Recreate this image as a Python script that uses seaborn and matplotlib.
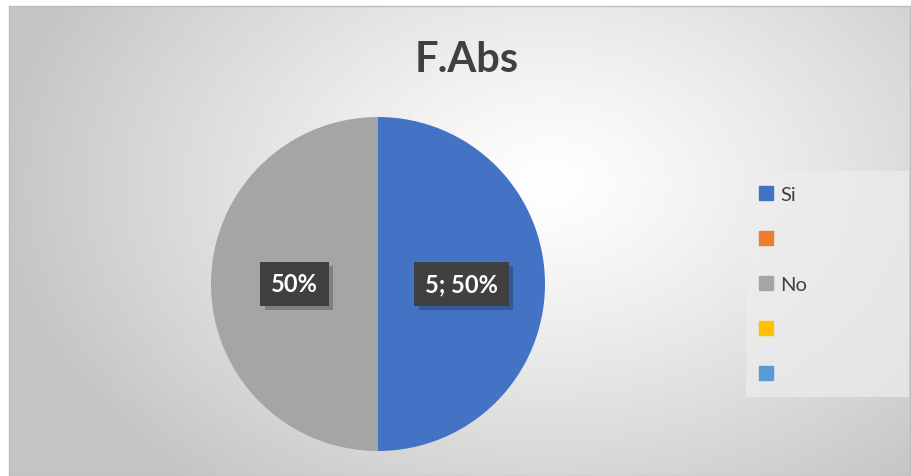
import numpy as np
import matplotlib
matplotlib.use("Agg")
import matplotlib.pyplot as plt
import matplotlib.patheffects as pe
import seaborn as sns
from matplotlib.patches import Rectangle
from matplotlib.lines import Line2D

sns.set_style("white")
plt.rcParams['font.family'] = ['Lato', 'DejaVu Sans']

title = "F.Abs"
categories = ["Si", "", "No", "", ""]
values = [5, 0, 5, 0, 0]
colors = ["#4472C4", "#ED7D31", "#A5A5A5", "#FFC000", "#5B9BD5"]
label_texts = ["5; 50%", None, "50%", None, None]

W, H = 911, 477
fig = plt.figure(figsize=(W / 100, H / 100), dpi=100)
fig.patch.set_facecolor("white")

# chart area background (radial gradient)
x0, y0, x1, y1 = 9, 7, 910, 477
bg = fig.add_axes([x0 / W, 1 - y1 / H, (x1 - x0) / W, (y1 - y0) / H])
yy, xx = np.mgrid[0:200, 0:400]
cx, cy = 240, 75
d = np.sqrt(((xx - cx) / 400) ** 2 + ((yy - cy) / 200) ** 2 * 0.55)
d = np.clip(d / 0.62, 0, 1)
val = 1.0 - 0.23 * d ** 1.2
img = np.dstack([val, val, val])
bg.imshow(img, aspect="auto", extent=[0, 1, 0, 1], origin="upper", interpolation="bilinear")
bg.set_xlim(0, 1); bg.set_ylim(0, 1)
bg.set_xticks([]); bg.set_yticks([])
for s in bg.spines.values():
    s.set_color("#BDBDBD"); s.set_linewidth(1.0)
bg.set_zorder(0)

# legend background box
fig.patches.append(Rectangle((746 / W, 1 - 398 / H), (909 - 746) / W, (398 - 172) / H,
                             transform=fig.transFigure, facecolor="#EDEDED", alpha=0.7,
                             edgecolor="none", zorder=1))

# title
fig.text(467 / W, 1 - 60 / H, title, ha="center", va="center", fontsize=30,
         fontweight="bold", color="#404040")

# pie
pcx, pcy, r = 378, 285, 167
ax = fig.add_axes([(pcx - r) / W, 1 - (pcy + r) / H, 2 * r / W, 2 * r / H])
ax.set_facecolor("none")
wedges, _ = ax.pie(values, colors=colors, startangle=90, counterclock=False,
                   radius=1.0, wedgeprops=dict(linewidth=0))
ax.set_xlim(-1, 1); ax.set_ylim(-1, 1)
ax.set_aspect("auto")

for w, lt in zip(wedges, label_texts):
    if lt is None:
        continue
    ang = np.deg2rad((w.theta1 + w.theta2) / 2)
    lx, ly = 0.5 * np.cos(ang), 0.5 * np.sin(ang)
    t = ax.text(lx, ly, lt, ha="center", va="center", fontsize=17, fontweight="bold",
                color="white",
                bbox=dict(boxstyle="square,pad=0.45", facecolor="#404040", edgecolor="none"))
    t.get_bbox_patch().set_path_effects([
        pe.SimplePatchShadow(offset=(3, -3), shadow_rgbFace="black", alpha=0.22),
        pe.Normal()])

# legend
handles = [Line2D([0], [0], marker="s", linestyle="none", markersize=10,
                  markerfacecolor=c, markeredgecolor=c) for c in colors]
leg = fig.legend(handles, categories, loc="upper left",
                 bbox_to_anchor=(746 / W, 1 - 175 / H), frameon=False,
                 fontsize=14.5, labelspacing=1.38, handlelength=0.8, handletextpad=0.3,
                 borderpad=0.6, borderaxespad=0)
for t in leg.get_texts():
    t.set_color("#404040")

fig.savefig("out.png", dpi=100)
